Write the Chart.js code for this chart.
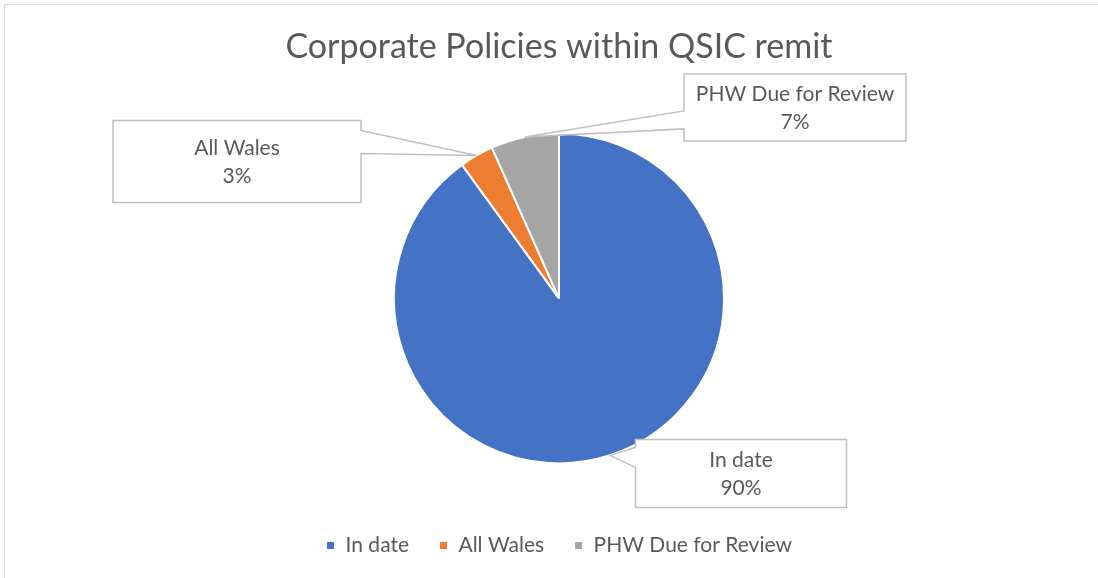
<!DOCTYPE html>
<html>
<head>
<meta charset="utf-8">
<script src="https://cdn.jsdelivr.net/npm/chart.js@4/dist/chart.umd.min.js"></script>
<style>
    html, body { margin: 0; padding: 0; background: #fff; overflow: hidden; }
    #frame { position: absolute; left: 4px; top: 4px; width: 1200px; height: 700px; border: 1px solid #d9d9d9; }
    #wrap { position: absolute; left: 0; top: 0; width: 1098px; height: 578px; }
</style>
</head>
<body>
<div id="frame"></div>
<div id="wrap"><canvas id="policyChart" width="1098" height="578"></canvas></div>
<script>
const categories = ['In date', 'All Wales', 'PHW Due for Review'];
const counts = [27, 1, 2];
const sliceColours = ['#4472C4', '#ED7D31', '#A5A5A5'];

// callout boxes: offset of box centre from pie centre, size, side of the pointer and where it sits on that side
const callouts = [
    { dx: 182, dy: 175, w: 211, h: 68, side: 'left', base: [8, 28] },
    { dx: -322, dy: -137, w: 248, h: 82, side: 'right', base: [10, 33] },
    { dx: 236, dy: -191, w: 222, h: 67, side: 'left', base: [37, 55] }
];

const textColour = '#595959';
const fontFamily = 'Lato, "Open Sans", "Liberation Sans", sans-serif';

const calloutPlugin = {
    id: 'callouts',
    afterDraw(chart) {
        const meta = chart.getDatasetMeta(0);
        const ctx = chart.ctx;
        const total = counts.reduce((a, b) => a + b, 0);
        meta.data.forEach((arc, i) => {
            const c = callouts[i];
            const mid = (arc.startAngle + arc.endAngle) / 2;
            const ax = arc.x + Math.cos(mid) * arc.outerRadius;
            const ay = arc.y + Math.sin(mid) * arc.outerRadius;
            const left = arc.x + c.dx - c.w / 2;
            const top = arc.y + c.dy - c.h / 2;
            const right = left + c.w;
            const bottom = top + c.h;

            ctx.save();
            ctx.beginPath();
            ctx.moveTo(left, top);
            ctx.lineTo(right, top);
            if (c.side === 'right') {
                ctx.lineTo(right, top + c.base[0]);
                ctx.lineTo(ax, ay);
                ctx.lineTo(right, top + c.base[1]);
            }
            ctx.lineTo(right, bottom);
            ctx.lineTo(left, bottom);
            if (c.side === 'left') {
                ctx.lineTo(left, top + c.base[1]);
                ctx.lineTo(ax, ay);
                ctx.lineTo(left, top + c.base[0]);
            }
            ctx.closePath();
            ctx.fillStyle = '#ffffff';
            ctx.fill();
            ctx.strokeStyle = '#bfbfbf';
            ctx.lineWidth = 1.5;
            ctx.stroke();

            ctx.fillStyle = textColour;
            ctx.font = '21px ' + fontFamily;
            ctx.textAlign = 'center';
            ctx.textBaseline = 'middle';
            const cx = (left + right) / 2;
            const cy = (top + bottom) / 2;
            ctx.fillText(categories[i], cx, cy - 13);
            ctx.fillText(Math.round(counts[i] / total * 100) + '%', cx, cy + 15);
            ctx.restore();
        });
    }
};

const chart = new Chart(document.getElementById('policyChart'), {
    type: 'pie',
    data: {
        labels: categories,
        datasets: [{
            data: counts,
            backgroundColor: sliceColours,
            borderColor: '#ffffff',
            borderWidth: 2,
            radius: 165
        }]
    },
    options: {
        responsive: false,
        animation: false,
        layout: { padding: { left: 20, right: 0, top: 0, bottom: 12 } },
        plugins: {
            title: {
                display: true,
                text: 'Corporate Policies within QSIC remit',
                color: textColour,
                font: { family: fontFamily, size: 34, weight: 'normal', lineHeight: 1.2 },
                padding: { top: 27, bottom: 24 }
            },
            legend: {
                position: 'bottom',
                labels: {
                    color: textColour,
                    font: { family: fontFamily, size: 21 },
                    boxWidth: 9,
                    boxHeight: 9,
                    padding: 30
                }
            },
            tooltip: { enabled: false }
        }
    },
    plugins: [calloutPlugin]
});
</script>
</body>
</html>
